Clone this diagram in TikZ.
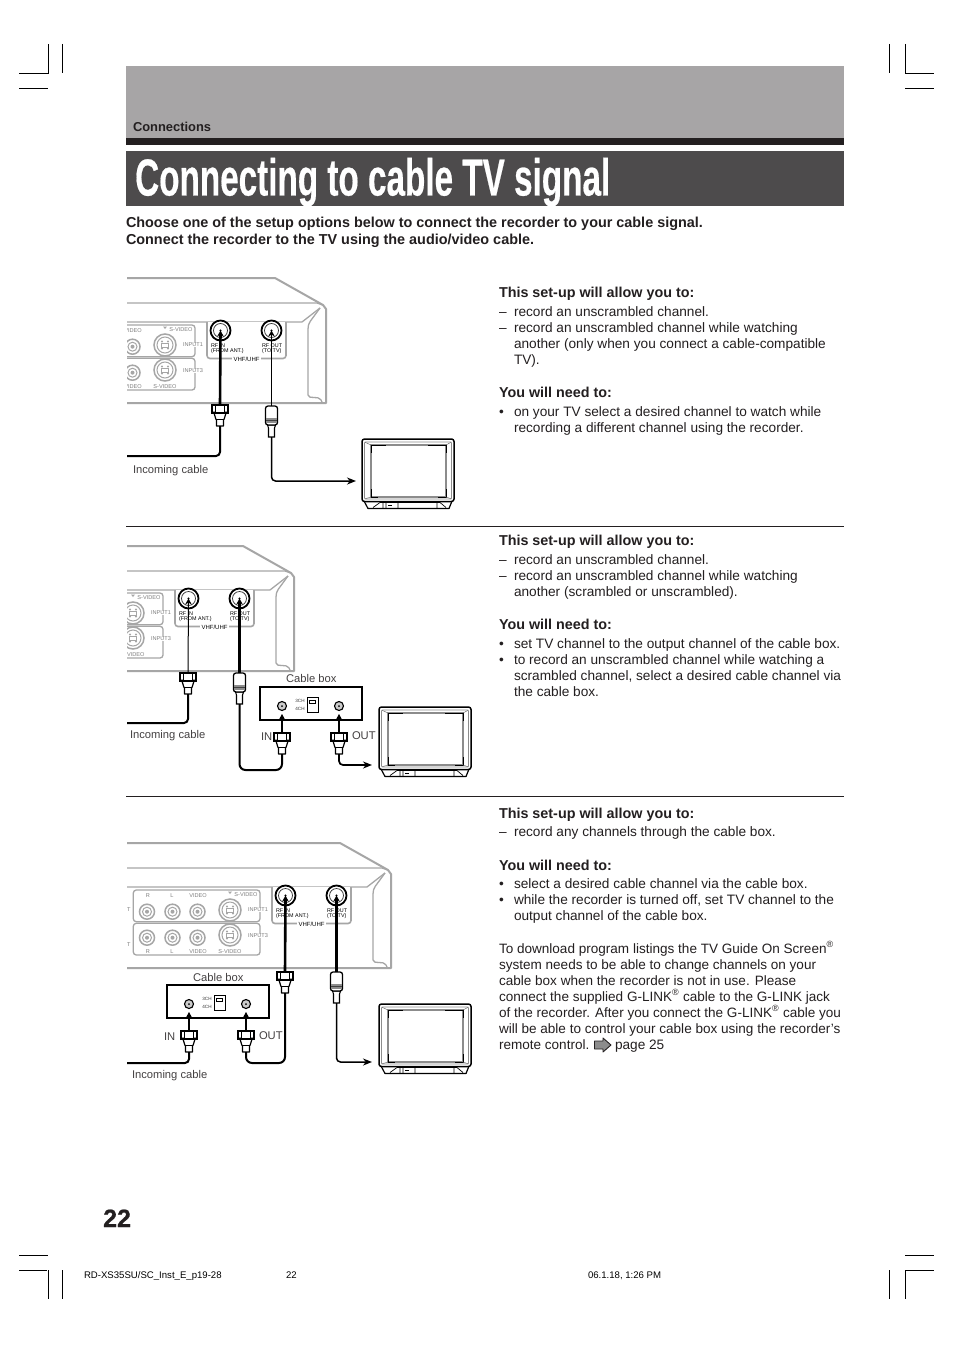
\documentclass[tikz,border=0pt]{standalone}
\usepackage{fontspec}
\usepackage{graphicx}
\setmainfont{Liberation Sans}
\usetikzlibrary{arrows.meta}
\definecolor{inkc}{HTML}{231F20}
\definecolor{bandc}{HTML}{A7A5A6}
\definecolor{titlec}{HTML}{4D4B4C}
\definecolor{partc}{HTML}{A6A6A6}
\definecolor{lblc}{HTML}{7E7E7E}
\newcount\tcnt
\newcommand{\regmark}{\textsuperscript{\fontsize{9}{9}\selectfont ®}}
\tikzset{
  pagerule/.style={line width=0.7pt,draw=inkc},
  cropmark/.style={line width=0.7pt,draw=black},
  txt/.style={anchor=base west,inner sep=0pt,outer sep=0pt,text=inkc,font=\fontsize{13.65}{16}\selectfont},
  paratxt/.style={txt,font=\fontsize{13.55}{16}\selectfont},
  btxt/.style={txt,font=\fontsize{14.35}{16}\selectfont\bfseries},
  sect/.style={txt,font=\fontsize{12.9}{16}\selectfont\bfseries},
  lead/.style={txt,font=\fontsize{14.4}{17}\selectfont\bfseries},
  smalltxt/.style={txt,text=inkc!85,font=\fontsize{11.2}{13}\selectfont},
  foot/.style={txt,text=black,font=\fontsize{9.6}{12}\selectfont},
  tiny/.style={inner sep=0pt,outer sep=0pt,text=lblc,font=\fontsize{5.6}{6}\selectfont},
  tinyb/.style={anchor=base west,inner sep=0pt,outer sep=0pt,text=black,font=\fontsize{5.4}{6}\selectfont},
  partline/.style={draw=partc,line width=1.3pt,line join=round},
  thickpart/.style={draw=partc,line width=2pt,line join=round},
  rcajack/.style={circle,draw=partc,line width=1.5pt,fill=white,minimum size=15pt,inner sep=0pt},
  rfjack/.style={circle,draw=black,line width=1.8pt,fill=white,minimum size=20pt,inner sep=0pt},
  boxjack/.style={circle,draw=black,line width=1.1pt,fill=lblc!40,minimum size=9pt,inner sep=0pt},
  cablethick/.style={draw=black,line width=2pt,rounded corners=4pt},
  cablethin/.style={draw=black,line width=1pt,rounded corners=4pt},
  plugarrow/.style={-{Stealth[length=6pt,width=6.5pt]}},
  cablearrow/.style={-{Stealth[length=9pt,width=7pt]}},
}
\newcommand{\tl}[4][txt]{\global\advance\tcnt by 1\relax\node[#1] (t\the\tcnt) at (#2,#3) {#4};}
% F connector
\newcommand{\fplug}[3]{%
  \begin{scope}[shift={(#2,#3)}]
    \filldraw[fill=white,draw=black,line width=1.2pt,line join=round] (-6,8) -- (-4.2,14) -- (-3.5,15) -- (-3.5,21) -- (3.5,21) -- (3.5,15) -- (4.2,14) -- (6,8) -- cycle;
    \draw[black,line width=.8pt] (-4,14) -- (4,14);
    \filldraw[fill=white,draw=black,line width=1.4pt] (-8,0) rectangle (8,8);
    \draw[black,line width=1.1pt] (-4.5,1) -- (-4.5,8) (4.5,1) -- (4.5,8);
    \fill[black] (-8,6.5) rectangle (-4.5,8) (4.5,6.5) rectangle (8,8);
    \coordinate (#1-top) at (0,0);
    \coordinate (#1-bot) at (0,21);
  \end{scope}}
% RF connector
\newcommand{\rfplug}[3]{%
  \begin{scope}[shift={(#2,#3)}]
    \filldraw[fill=white,draw=black,line width=1.1pt] (-4,19) -- (-3,22) -- (-3,31) -- (3,31) -- (3,22) -- (4,19) -- cycle;
    \filldraw[fill=white,draw=black,line width=1.3pt,rounded corners=2.5pt] (-6,19) -- (-6,0) -- (6,0) -- (6,19) -- cycle;
    \fill[black!45] (-5.4,12) rectangle (5.4,17);
    \fill[black!75] (-5.4,14) rectangle (5.4,15);
    \coordinate (#1-top) at (0,0);
    \coordinate (#1-bot) at (0,31);
  \end{scope}}
% television
\newcommand{\tvset}[2]{%
  \begin{scope}[shift={(#1,#2)}]
    \filldraw[fill=white,draw=black,line width=1.2pt,line join=round] (2,62) -- (6,69.5) -- (87,69.5) -- (90,62) -- cycle;
    \filldraw[fill=white,draw=black,line width=1.5pt,rounded corners=2.5pt] (0,0) rectangle (92,62.5);
    \draw[black!45,line width=.7pt,rounded corners=1pt] (2.5,3) rectangle (89.5,60);
    \draw[black!45,line width=1.1pt] (9,6) rectangle (84,58);
    \draw[black,line width=.7pt] (9,6) -- (24,6) (66,6) -- (84,6) -- (84,14) (9,6) -- (9,14) (9,50) -- (9,58) -- (16,58) (76,58) -- (84,58) -- (84,50);
    \draw[black!55,line width=.5pt] (2.5,3) -- (9,6) (89.5,3) -- (84,6) (2.5,60) -- (9,58) (89.5,60) -- (84,58);
    \draw[black,line width=.7pt] (11,68.5) -- (18,63.5) -- (78,63.5) -- (84,68.5) (36,63.5) -- (36,69) (75,63.5) -- (75,69) (21,63.5) -- (21,69) (24,63.5) -- (24,69);
    \fill[black] (26,65.5) rectangle (30,67);
  \end{scope}}
% cable box
\newcommand{\cablebox}[3]{%
  \begin{scope}[shift={(#2,#3)}]
    \draw[black,line width=1.4pt,fill=white] (0,0) rectangle (102,33);
    \node[boxjack] (#1-in) at (22,19) {};
    \node[boxjack] (#1-out) at (79,19) {};
    \fill[black] (22,19) circle (1pt) (79,19) circle (1pt);
    \draw[black,line width=.7pt] (47,10) rectangle (58,25);
    \draw[black,line width=.7pt] (49,13) rectangle (55,16.5);
    \node[tiny,text=black!80,font=\fontsize{4.6}{5}\selectfont] (#1-l3) at (40,14) {3CH};
    \node[tiny,text=black!80,font=\fontsize{4.6}{5}\selectfont] (#1-l4) at (40,21.5) {4CH};
  \end{scope}}
% recorder rear, in the coordinates of the first drawing
\newcommand{\rcaj}[3]{\node[rcajack] (#1) at (#2,#3) {}; \draw[partc,line width=1pt] (#2,#3) circle (4.5pt); \fill[partc] (#2,#3) circle (2pt);}
\newcommand{\sj}[3]{\node[rcajack,minimum size=22pt] (#1) at (#2,#3) {}; \draw[partc,line width=1pt] (#2,#3) circle (8pt); \draw[partc,line width=.9pt] (#2-3.5,#3-2) rectangle (#2+3.5,#3+2); \fill[partc] (#2-3,#3-3.5) circle (1.1pt) (#2+3,#3-3.5) circle (1.1pt) (#2-3,#3+3.5) circle (1.1pt) (#2+3,#3+3.5) circle (1.1pt);}
\newcommand{\recorder}[5]{% prefix, dx, dy, clip top, clip bottom
  \begin{scope}
  \clip (127,#4) rectangle (500,#5);
  \begin{scope}[shift={(#2,#3)}]
    \draw[thickpart] (0,278) -- (275,278) -- (323,305) -- (326,309) -- (326,403) -- (0,403);
    \draw[partline] (0,303) -- (317,303) -- (323,305);
    \draw[partline] (0,322) -- (302,322) -- (320,308);
    \draw[partline,rounded corners=2pt] (320,308) -- (309,323) -- (308,327) -- (308,397) -- (320,398) -- (322,402);
    \draw[partline,rounded corners=3pt] (68.3,325) rectangle (195,356.7);
    \draw[partline,rounded corners=3pt] (68.3,358.3) rectangle (195,390);
    \foreach \lx/\ly/\lt in {83/331/R,107/331/L,133/331/VIDEO,83/387/R,107/387/L,133/387/VIDEO,165/387/S-VIDEO,63/345/IT,63/380/IT}{\node[tiny,fill=white] at (\lx,\ly) {\lt};}
    \node[tiny,fill=white] (#1-sv) at (181,329.5) {S-VIDEO};
    \node[tiny,fill=white] (#1-i1) at (193,345) {INPUT1};
    \node[tiny,fill=white] (#1-i3) at (193,371) {INPUT3};
    \rcaj{#1-r1}{82}{346.7} \rcaj{#1-l1}{107.5}{346.7} \rcaj{#1-v1}{132.5}{346.7}
    \rcaj{#1-r2}{82}{372.7} \rcaj{#1-l2}{107.5}{372.7} \rcaj{#1-v2}{132.5}{372.7}
    \sj{#1-s1}{165}{345} \sj{#1-s2}{165}{370}
    \fill[partc] (165,329) -- (163,326.5) -- (167,326.5) -- cycle;
    \draw[partline,fill=white,line width=1.6pt,rounded corners=3pt] (207,322) -- (207,358.5) -- (286,358.5) -- (286,322);
    \node[inner sep=1.5pt,fill=white,text=black,font=\fontsize{6}{6}\selectfont] (#1-vu) at (246.5,359) {VHF/UHF};
    \node[tinyb] (#1-a) at (211,347) {RF IN};
    \node[tinyb] (#1-b) at (211,352.5) {(FROM ANT.)};
    \node[tinyb] (#1-c) at (262,347) {RF OUT};
    \node[tinyb] (#1-d) at (262,352.5) {(TO TV)};
    \node[rfjack] (#1-in) at (220.5,330.5) {};
    \node[rfjack] (#1-out) at (271.5,330.5) {};
    \draw[black!80,line width=.7pt] (220.5,330.5) circle (7pt) (271.5,330.5) circle (7pt);
    \fill[black] (220.5,330.5) circle (1.1pt) (271.5,330.5) circle (1.1pt);
  \end{scope}
  \end{scope}}
\begin{document}
\begin{tikzpicture}[x=1pt,y=-1pt]
\useasboundingbox (0,0) rectangle (954,1351);
\fill[white] (0,0) rectangle (954,1351);
% crop marks
\draw[cropmark] (19,73) -- (48,73) -- (48,44) (62,44) -- (62,73) (19,88) -- (48,88);
\draw[cropmark] (889,44) -- (889,73) (905,44) -- (905,73) -- (934,73) (905,88) -- (934,88);
\draw[cropmark] (19,1255) -- (48,1255) (19,1270) -- (47,1270) (48,1270) -- (48,1299) (62,1270) -- (62,1299);
\draw[cropmark] (905,1255) -- (934,1255) (905,1270) -- (934,1270) (905,1270) -- (905,1299) (889,1270) -- (889,1299);
% header
\fill[bandc] (126,66) rectangle (844,138);
\fill[inkc] (126,138) rectangle (844,145);
\fill[titlec] (126,151) rectangle (844,206);
\tl[sect]{133}{132}{Connections}
\node[anchor=base west,inner sep=0pt,text=white] (title) at (135,195.5) {\resizebox{475pt}{\height}{\fontsize{52}{52}\selectfont\bfseries\addfontfeature{FakeBold=0.5}Connecting to cable TV signal}};
\tl[lead]{126}{227}{Choose one of the setup options below to connect the recorder to your cable signal.}
\tl[lead]{126}{244}{Connect the recorder to the TV using the audio/video cable.}
\draw[pagerule] (126,526) -- (844,526);
\draw[pagerule] (126,796) -- (844,796);
% block 1
\tl[btxt]{499}{297}{This set-up will allow you to:}
\tl{499}{316}{–} \tl{514}{316}{record an unscrambled channel.}
\tl{499}{332}{–} \tl{514}{332}{record an unscrambled channel while watching}
\tl{514}{348}{another (only when you connect a cable-compatible}
\tl{514}{364}{TV).}
\tl[btxt]{499}{397}{You will need to:}
\tl{499}{416}{•} \tl{514}{416}{on your TV select a desired channel to watch while}
\tl{514}{432}{recording a different channel using the recorder.}
% block 2
\tl[btxt]{499}{545}{This set-up will allow you to:}
\tl{499}{564}{–} \tl{514}{564}{record an unscrambled channel.}
\tl{499}{580}{–} \tl{514}{580}{record an unscrambled channel while watching}
\tl{514}{596}{another (scrambled or unscrambled).}
\tl[btxt]{499}{629}{You will need to:}
\tl{499}{648}{•} \tl{514}{648}{set TV channel to the output channel of the cable box.}
\tl{499}{664}{•} \tl{514}{664}{to record an unscrambled channel while watching a}
\tl{514}{680}{scrambled channel, select a desired cable channel via}
\tl{514}{696}{the cable box.}
% block 3
\tl[btxt]{499}{818}{This set-up will allow you to:}
\tl{499}{836}{–} \tl{514}{836}{record any channels through the cable box.}
\tl[btxt]{499}{870}{You will need to:}
\tl{499}{888}{•} \tl{514}{888}{select a desired cable channel via the cable box.}
\tl{499}{904}{•} \tl{514}{904}{while the recorder is turned off, set TV channel to the}
\tl{514}{920}{output channel of the cable box.}
\tl[paratxt]{499}{953}{To download program listings the TV Guide On Screen\regmark}
\tl[paratxt]{499}{969}{system needs to be able to change channels on your}
\tl[paratxt]{499}{985}{cable box when the recorder is not in use. Please}
\tl[paratxt]{499}{1001}{connect the supplied G-LINK\regmark{} cable to the G-LINK jack}
\tl[paratxt]{499}{1017}{of the recorder. After you connect the G-LINK\regmark{} cable you}
\tl[paratxt]{499}{1033}{will be able to control your cable box using the recorder’s}
\tl[paratxt]{499}{1049}{remote control.} \tl{615}{1049}{page 25}
\filldraw[fill=black!45,draw=inkc,line width=.9pt,line join=round] (594.5,1041) -- (603,1041) -- (603,1038) -- (611,1045) -- (603,1052) -- (603,1049) -- (594.5,1049) -- cycle;
% footer
\node[anchor=base west,inner sep=0pt,text=inkc,font=\fontsize{25}{25}\selectfont\bfseries\addfontfeature{FakeBold=0.8}] (pageno) at (103,1227) {22};
\tl[foot]{84}{1278}{RD-XS35SU/SC\_Inst\_E\_p19-28}
\tl[foot]{286}{1278}{22}
\tl[foot]{588}{1278}{06.1.18, 1:26 PM}

% ---------- drawing 1
\recorder{ra}{0}{0}{270}{410}
\fplug{ra-pi}{220}{405}
\rfplug{ra-po}{271.5}{406}
\tvset{362}{439}
\coordinate (ra-inc) at (127,456);
\coordinate (ra-tv) at (356,481);
\draw[cablethick,line width=2.6pt,plugarrow] (ra-pi-top) -- (ra-in.center);
\draw[cablethin,plugarrow] (ra-po-top) -- (ra-out.center);
\draw[cablethick] (ra-inc) -| (ra-pi-bot);
\draw[cablethick,line width=1.5pt,cablearrow] (ra-po-bot) |- (ra-tv);
\tl[smalltxt]{133}{473}{Incoming cable}

% ---------- drawing 2
\recorder{rb}{-32}{268}{538}{680}
\fplug{rb-pi}{188}{673}
\rfplug{rb-po}{239.5}{673}
\tvset{379}{707}
\cablebox{bb}{260}{687}
\fplug{bb-pi}{282}{733}
\fplug{bb-po}{339}{733}
\coordinate (rb-inc) at (127,723);
\coordinate (rb-tv) at (372,765);
\draw[cablethin,plugarrow] (rb-pi-top) -- (rb-in.center);
\draw[cablethick,line width=2.6pt,plugarrow] (rb-po-top) -- (rb-out.center);
\draw[cablethick] (rb-inc) -| (rb-pi-bot);
\draw[cablethick,rounded corners=6pt] (rb-po-bot) -- ++(0,66) -| (bb-pi-bot);
\draw[cablethick,line width=2.4pt,plugarrow] (bb-pi-top) -- ++(0,-19);
\draw[cablethick,line width=2.4pt,plugarrow] (bb-po-top) -- ++(0,-19);
\draw[cablethick,line width=1.7pt,cablearrow] (bb-po-bot) |- (rb-tv);
\tl[smalltxt]{286}{682}{Cable box}
\tl[smalltxt]{130}{738}{Incoming cable}
\tl[smalltxt]{261}{740}{IN}
\tl[smalltxt]{352}{739}{OUT}

% ---------- drawing 3
\recorder{rc}{65}{565}{835}{975}
\fplug{rc-pi}{285}{972}
\rfplug{rc-po}{336.5}{972}
\tvset{379}{1004}
\cablebox{cc}{167}{985}
\fplug{cc-pi}{189}{1031}
\fplug{cc-po}{246}{1031}
\coordinate (rc-inc) at (127,1063);
\coordinate (rc-tv) at (372,1062);
\draw[cablethick,line width=2.6pt,plugarrow] (rc-pi-top) -- (rc-in.center);
\draw[cablethick,line width=2.6pt,plugarrow] (rc-po-top) -- (rc-out.center);
\draw[cablethick] (rc-inc) -| (cc-pi-bot);
\draw[cablethick,rounded corners=6pt] (cc-po-bot) |- ++(39,11) -- (rc-pi-bot);
\draw[cablethick,line width=2.4pt,plugarrow] (cc-pi-top) -- ++(0,-19);
\draw[cablethick,line width=2.4pt,plugarrow] (cc-po-top) -- ++(0,-19);
\draw[cablethick,line width=1.5pt,cablearrow] (rc-po-bot) |- (rc-tv);
\tl[smalltxt]{193}{981}{Cable box}
\tl[smalltxt]{164}{1040}{IN}
\tl[smalltxt]{259}{1039}{OUT}
\tl[smalltxt]{132}{1078}{Incoming cable}
\end{tikzpicture}
\end{document}
